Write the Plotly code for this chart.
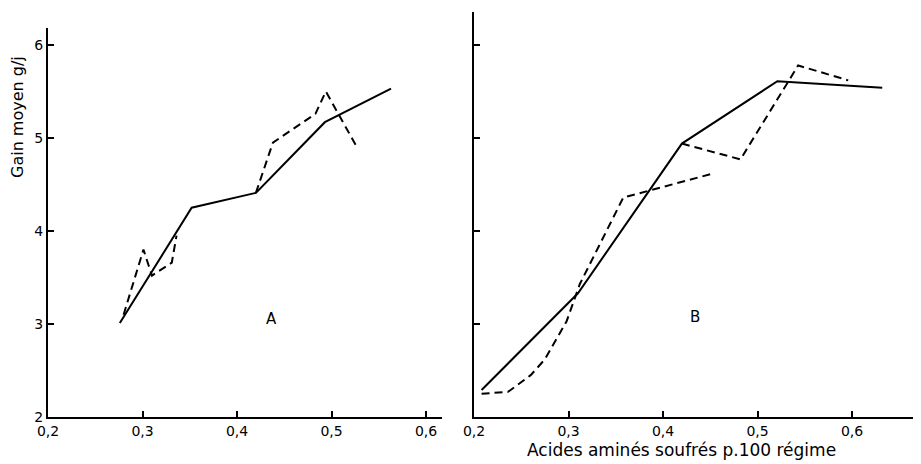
import plotly.graph_objects as go

# ---- data ----
a_solid_x = [0.276, 0.352, 0.420, 0.493, 0.563]
a_solid_y = [3.01, 4.25, 4.41, 5.17, 5.53]

a_dash1_x = [0.280, 0.301, 0.310, 0.331, 0.336]
a_dash1_y = [3.10, 3.80, 3.52, 3.66, 3.95]
a_dash2_x = [0.420, 0.438, 0.483, 0.494, 0.527]
a_dash2_y = [4.41, 4.95, 5.26, 5.50, 4.90]

b_solid_x = [0.208, 0.310, 0.420, 0.521, 0.632]
b_solid_y = [2.29, 3.33, 4.94, 5.61, 5.54]

b_dash1_x = [0.208, 0.236, 0.260, 0.275, 0.298, 0.312, 0.358, 0.450]
b_dash1_y = [2.25, 2.27, 2.45, 2.62, 3.03, 3.43, 4.36, 4.61]
b_dash2_x = [0.420, 0.482, 0.543, 0.596]
b_dash2_y = [4.94, 4.77, 5.78, 5.62]

x_tickvals = [0.2, 0.3, 0.4, 0.5, 0.6]
x_ticktext = ["0,2", "0,3", "0,4", "0,5", "0,6"]
y_tickvals = [2, 3, 4, 5, 6]
y_ticktext = ["2", "3", "4", "5", "6"]

FONT = "DejaVu Sans"
solid = dict(color="black", width=2)
dashed = dict(color="black", width=2, dash="8px,5px")

fig = go.Figure()
fig.add_trace(go.Scatter(x=a_solid_x, y=a_solid_y, mode="lines", line=solid, xaxis="x", yaxis="y"))
fig.add_trace(go.Scatter(x=a_dash1_x, y=a_dash1_y, mode="lines", line=dashed, xaxis="x", yaxis="y"))
fig.add_trace(go.Scatter(x=a_dash2_x, y=a_dash2_y, mode="lines", line=dashed, xaxis="x", yaxis="y"))
fig.add_trace(go.Scatter(x=b_solid_x, y=b_solid_y, mode="lines", line=solid, xaxis="x2", yaxis="y2"))
fig.add_trace(go.Scatter(x=b_dash1_x, y=b_dash1_y, mode="lines", line=dashed, xaxis="x2", yaxis="y2"))
fig.add_trace(go.Scatter(x=b_dash2_x, y=b_dash2_y, mode="lines", line=dashed, xaxis="x2", yaxis="y2"))

# page body has an 8px margin: work in window pixels, convert to figure pixels
OFF = 8
W, H = 913, 456

def px(x):
    return (x - OFF) / W

def py(y):
    return (H - (y - OFF)) / H

def xdom(a, b):
    return [px(a), px(b)]

def ydom(bottom, top):
    return [py(bottom), py(top)]

common_x = dict(showline=True, linecolor="black", linewidth=2, ticks="inside", ticklen=6,
                tickwidth=1.5, tickcolor="black", tickvals=x_tickvals, ticktext=x_ticktext,
                showgrid=False, zeroline=False, tickfont=dict(family=FONT, size=14, color="black"),
                automargin=False)
common_y = dict(showline=True, linecolor="black", linewidth=2, ticks="inside", ticklen=6,
                tickwidth=1.5, tickcolor="black", tickvals=y_tickvals,
                showgrid=False, zeroline=False, tickfont=dict(family=FONT, size=14, color="black"),
                automargin=False)

fig.update_layout(
    width=W, height=H,
    margin=dict(l=0, r=0, t=0, b=0),
    paper_bgcolor="white", plot_bgcolor="white",
    showlegend=False,
    xaxis=dict(common_x, domain=xdom(48, 442), range=[0.2, 0.2 + (442 - 48) / 945], anchor="y"),
    yaxis=dict(common_y, domain=ydom(417, 28), range=[2, 2 + (417 - 28) / 93], anchor="x",
               ticktext=y_ticktext),
    xaxis2=dict(common_x, domain=xdom(474, 913), range=[0.2, 0.2 + (913 - 474) / 945], anchor="y2"),
    yaxis2=dict(common_y, domain=ydom(417, 12), range=[2, 2 + (417 - 12) / 93], anchor="x2",
                ticktext=["", "", "", "", ""]),
    annotations=[
        dict(text="A", x=0.437, y=3.05, xref="x", yref="y", showarrow=False,
             font=dict(family=FONT, size=15, color="black")),
        dict(text="B", x=0.434, y=3.07, xref="x2", yref="y2", showarrow=False,
             font=dict(family=FONT, size=15, color="black")),
        dict(text="Gain moyen g/j", x=px(17), y=py(117), xref="paper", yref="paper",
             xanchor="center", yanchor="middle",
             showarrow=False, textangle=-90, font=dict(family=FONT, size=16, color="black")),
        dict(text="Acides aminés soufrés p.100 régime", x=px(681), y=py(450),
             xref="paper", yref="paper", xanchor="center", yanchor="middle", showarrow=False,
             font=dict(family=FONT, size=17, color="black")),
    ],
)

fig.write_html("out.html")
